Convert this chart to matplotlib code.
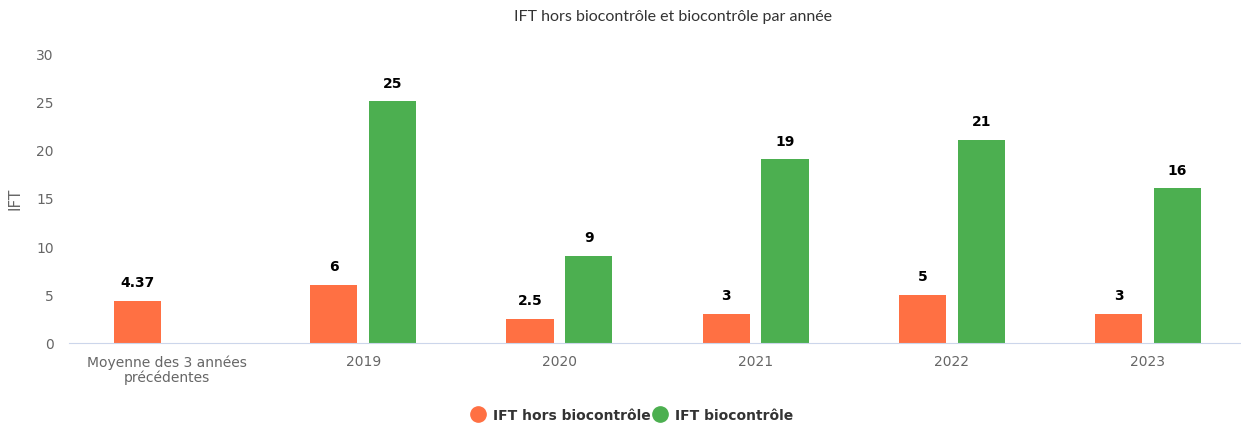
import matplotlib.pyplot as plt
import numpy as np
from matplotlib.lines import Line2D

categories = ["Moyenne des 3 années\nprécédentes", "2019", "2020", "2021", "2022", "2023"]
hors_bio = [4.37, 6, 2.5, 3, 5, 3]
bio = [np.nan, 25, 9, 19, 21, 16]
series_names = ["IFT hors biocontrôle", "IFT biocontrôle"]
colors = ["#FF7043", "#4CAF50"]

fig = plt.figure(figsize=(12.41, 4.27), dpi=100)
ax = fig.add_axes([69 / 1241, 1 - 344 / 427, 1177 / 1241, 290 / 427])

x = np.arange(len(categories))
w = 0.24
off = 0.15
for vals, dx, c in [(hors_bio, -off, colors[0]), (bio, off, colors[1])]:
    ax.bar(x + dx, vals, width=w, color=c, zorder=3)
    for xi, v in zip(x + dx, vals):
        if not np.isnan(v):
            ax.text(xi, v + 1.2, f"{v:g}", ha="center", va="bottom",
                    fontsize=10, fontweight="bold", color="black")

ax.set_xlim(-0.5, len(categories) - 0.5)
ax.set_ylim(0, 30)
ax.set_yticks(range(0, 31, 5))
ax.set_xticks(x)
ax.set_xticklabels(categories, linespacing=1.1)
ax.set_yticks(range(5, 31, 5), minor=True)
ax.grid(axis="y", which="minor", color="#e6e6e6", linewidth=1, zorder=0)
for s in ["top", "right", "left"]:
    ax.spines[s].set_visible(False)
ax.spines["bottom"].set_color("#ccd6eb")
ax.spines["bottom"].set_zorder(4)
ax.tick_params(axis="both", which="both", length=0, labelsize=10, colors="#666666")
ax.tick_params(axis="y", which="minor", labelleft=False)
ax.tick_params(axis="y", pad=11)
ax.tick_params(axis="x", pad=8)
ax.set_ylabel("IFT", fontsize=11, color="#666666", labelpad=10)

fig.text(0.542, 1 - 17 / 427, "IFT hors biocontrôle et biocontrôle par année",
         ha="center", va="center", fontsize=11.5, color="#333333", family="Lato")

handles = [Line2D([], [], marker="o", linestyle="none", markersize=11,
                  markerfacecolor=c, markeredgecolor=c) for c in colors]
leg = fig.legend(handles, series_names, loc="center", bbox_to_anchor=(0.5065, 1 - 416 / 427),
                 ncol=2, frameon=False, handletextpad=0.1, columnspacing=-0.35,
                 prop={"weight": "bold", "size": 10})
for t in leg.get_texts():
    t.set_color("#333333")

fig.savefig("out.png", dpi=100)
